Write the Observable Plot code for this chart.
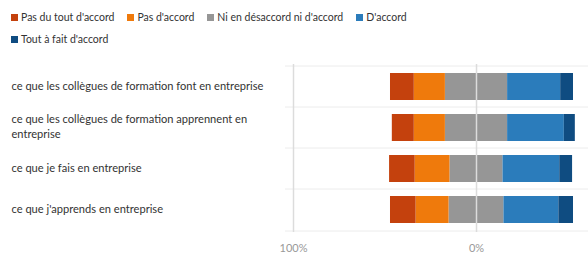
<!DOCTYPE html>
<html><head><meta charset="utf-8">
<script src="https://cdn.jsdelivr.net/npm/d3@7"></script>
<script src="https://cdn.jsdelivr.net/npm/@observablehq/plot@0.6"></script>
<style>
body{margin:0;background:#fff;font-family:Lato,sans-serif;color:#333;}
#legend{display:flex;flex-wrap:wrap;width:420px;height:44px;padding:6px 0 0 11px;font-size:10.5px;line-height:22px;}
.item{display:flex;align-items:center;margin-right:13px;white-space:nowrap;}
.sw{width:7px;height:7px;margin-right:3px;}
</style></head>
<body>
<div id="legend"></div>
<div id="chart"></div>
<script>
const categories = [
  "ce que les collègues de formation font en entreprise",
  "ce que les collègues de formation apprennent en entreprise",
  "ce que je fais en entreprise",
  "ce que j'apprends en entreprise"
];
const responses = ["Pas du tout d'accord", "Pas d'accord", "Ni en désaccord ni d'accord", "D'accord", "Tout à fait d'accord"];
const colors = ["#c4410d", "#ef7a0c", "#969696", "#2b7cbb", "#0f4c81"];
const pasDuTout = [13, 12, 14, 14];
const pasDaccord = [17, 17, 19, 18];
const neutre = [34, 34, 29, 30];
const daccord = [29, 31, 31, 30];
const toutAFait = [7, 6, 7, 8];
const xTicks = [-100, 0];

const rows = [];
categories.forEach((c, i) => {
  rows.push({cat: c, r: responses[2], v: -neutre[i] / 2});
  rows.push({cat: c, r: responses[1], v: -pasDaccord[i]});
  rows.push({cat: c, r: responses[0], v: -pasDuTout[i]});
  rows.push({cat: c, r: responses[2], v: neutre[i] / 2});
  rows.push({cat: c, r: responses[3], v: daccord[i]});
  rows.push({cat: c, r: responses[4], v: toutAFait[i]});
});

const legend = document.getElementById("legend");
responses.forEach((r, i) => {
  const it = document.createElement("div");
  it.className = "item";
  it.innerHTML = `<span class="sw" style="background:${colors[i]}"></span><span>${r}</span>`;
  legend.appendChild(it);
});

const chart = Plot.plot({
  width: 588,
  height: 203,
  marginLeft: 293,
  marginRight: 0,
  marginTop: 14,
  marginBottom: 21,
  style: {fontFamily: 'Lato,sans-serif', background: "#fff"},
  x: {domain: [-100, 61.2], axis: null, label: null},
  y: {domain: categories, paddingInner: 0.333, paddingOuter: 0.1667, axis: null, label: null},
  color: {domain: responses, range: colors},
  marks: [
    Plot.ruleY(categories, {y: d => d, dy: -21, stroke: "#ececec", insetLeft: -8}),
    Plot.ruleY([categories[categories.length - 1]], {y: d => d, dy: 21, stroke: "#ececec", insetLeft: -8}),
    Plot.barX(rows, Plot.stackX({y: "cat", x: "v", fill: "r", z: "r", order: [responses[2], responses[1], responses[0], responses[3], responses[4]]})),
    Plot.ruleX(xTicks, {stroke: "#dcdcdc", strokeWidth: 1.5}),
    Plot.axisX({ticks: xTicks, tickFormat: d => Math.abs(d) + "%", tickSize: 0, tickPadding: 12, fontSize: 11, color: "#999", label: null}),
    Plot.axisY({tickSize: 0, textAnchor: "start", dx: -273, dy: -2, fontSize: 11.1, color: "#333", lineWidth: 26, lineHeight: 1.35, label: null})
  ]
});
document.getElementById("chart").appendChild(chart);
</script>
</body></html>
